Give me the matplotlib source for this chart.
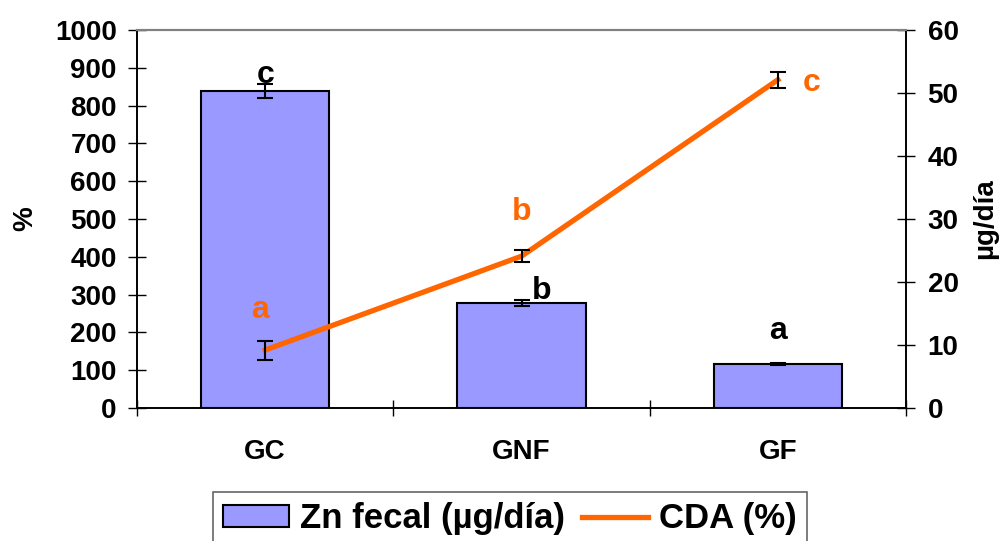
import matplotlib
matplotlib.use("Agg")
import matplotlib.pyplot as plt
import numpy as np

plt.rcParams["font.family"] = ["Liberation Sans", "DejaVu Sans"]
plt.rcParams["font.weight"] = "bold"

groups = ["GC", "GNF", "GF"]
zn_fecal = [838, 277, 116]          # left axis
zn_err = [18, 8, 3]
cda = [9.2, 24.1, 52.1]             # right axis
cda_err = [1.5, 0.95, 1.25]

bar_letters = ["c", "b", "a"]
bar_letter_pos = [(0.0, 881), (1.08, 310), (2.0, 204)]
line_letters = ["a", "b", "c"]
line_letter_pos = [(-0.02, 259), (1.0, 519), (2.13, 860)]

BAR_COLOR = "#9999FF"
LINE_COLOR = "#FF6600"

fig = plt.figure(figsize=(10, 5.41), dpi=100)
ax = fig.add_axes([0.137, 0.2458, 0.769, 0.6987])
ax2 = ax.twinx()

x = np.arange(len(groups))
bars = ax.bar(x, zn_fecal, width=0.5, color=BAR_COLOR, edgecolor="black",
              linewidth=1.5, label="Zn fecal (µg/día)", zorder=2)
ax.errorbar(x, zn_fecal, yerr=zn_err, fmt="none", ecolor="black",
            elinewidth=1.5, capsize=5.5, capthick=1.5, zorder=3)

line, = ax2.plot(x, cda, color=LINE_COLOR, linewidth=3.8, label="CDA (%)", zorder=2)
ax2.errorbar(x, cda, yerr=cda_err, fmt="none", ecolor="black",
             elinewidth=1.5, capsize=5.5, capthick=1.5, zorder=3)

for t, (px, py) in zip(bar_letters, bar_letter_pos):
    ax.text(px, py, t, ha="center", va="center", fontsize=23, fontweight="bold",
            color="black", zorder=5)
for t, (px, py) in zip(line_letters, line_letter_pos):
    ax.text(px, py, t, ha="center", va="center", fontsize=23, fontweight="bold",
            color=LINE_COLOR, zorder=5)

ax.set_xlim(-0.5, 2.5)
ax.set_ylim(0, 1000)
ax2.set_ylim(0, 60)
ax.set_yticks(np.arange(0, 1001, 100))
ax2.set_yticks(np.arange(0, 61, 10))

# category boundaries as major ticks, labels as minor ticks
ax.set_xticks([-0.5, 0.5, 1.5, 2.5])
ax.set_xticklabels([])
ax.set_xticks(x, minor=True)
ax.set_xticklabels(groups, minor=True)
ax.tick_params(axis="x", which="major", direction="inout", length=12, width=1)
ax.tick_params(axis="x", which="minor", length=0, pad=22, labelsize=20)

ax.tick_params(axis="y", direction="inout", length=13, width=1, pad=8, labelsize=20)
ax2.tick_params(axis="y", direction="inout", length=13, width=1, pad=9, labelsize=20)
for lab in ax.get_yticklabels() + ax2.get_yticklabels() + ax.get_xticklabels(minor=True):
    lab.set_fontweight("bold")

for a in (ax, ax2):
    a.spines["top"].set_color("#808080")
    a.spines["top"].set_linewidth(1.5)
    a.spines["left"].set_linewidth(1.2)
    a.spines["right"].set_linewidth(1.2)
    a.spines["bottom"].set_linewidth(1.2)

ax.set_ylabel("%", fontsize=20, fontweight="bold", labelpad=12)
ax2.set_ylabel("µg/día", fontsize=20, fontweight="bold", labelpad=10)

# bars on ax (below), line on ax2 (above)
ax.set_zorder(ax2.get_zorder() - 1)
ax.patch.set_visible(True)
ax2.patch.set_visible(False)

leg = fig.legend([bars, line], ["Zn fecal (µg/día)", "CDA (%)"], loc="upper left",
                 bbox_to_anchor=(0.213, 0.0906), ncol=2, fontsize=25,
                 frameon=True, fancybox=False, edgecolor="#404040",
                 handlelength=1.9, handleheight=0.6, columnspacing=0.5,
                 handletextpad=0.3, borderaxespad=0, borderpad=0.3)
leg.get_frame().set_linewidth(1.2)
for t in leg.get_texts():
    t.set_fontweight("bold")

fig.savefig("out.png", dpi=100)
